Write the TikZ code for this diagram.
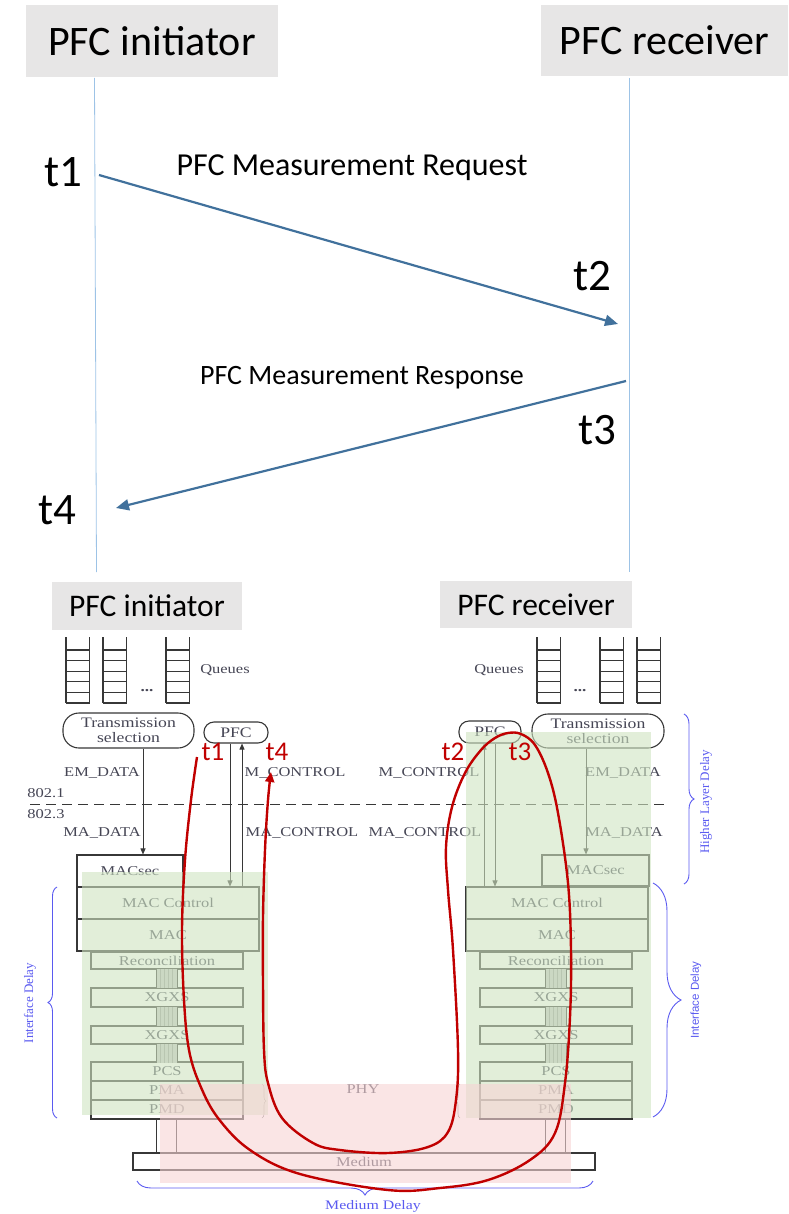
\documentclass[tikz,border=0pt]{standalone}
\usepackage{fontspec}
\setmainfont{Carlito}
\newfontfamily\ieee[FakeStretch=1.22]{Liberation Serif}
\newfontfamily\ieeeup{Liberation Serif}
\newfontfamily\ieeesans{Liberation Sans}
\usetikzlibrary{arrows.meta,decorations.pathreplacing}
\definecolor{hdrgray}{RGB}{231,230,230}
\definecolor{lifeblue}{RGB}{157,195,230}
\definecolor{msgblue}{RGB}{65,113,156}
\definecolor{boxline}{RGB}{55,55,55}
\definecolor{ieeetext}{RGB}{70,70,85}
\definecolor{delayblue}{RGB}{90,90,240}
\definecolor{loopred}{RGB}{192,0,0}
\definecolor{ifgreen}{RGB}{207,228,193}
\definecolor{medpink}{RGB}{247,212,212}
\begin{document}
\begin{tikzpicture}[x=1pt,y=-1pt,
    hdr/.style={fill=hdrgray, inner sep=0pt},
    life/.style={draw=lifeblue, line width=0.8pt},
    msg/.style={draw=msgblue, line width=2.2pt, -{Triangle[length=13pt,width=11pt]}},
    tlbl/.style={inner sep=0pt, font=\fontsize{45}{45}\selectfont},
    redt/.style={inner sep=0pt, text=loopred, font=\fontsize{27}{27}\selectfont},
    ieeelbl/.style={inner sep=0pt, text=ieeetext, font=\ieee\fontsize{13.5}{14}\selectfont},
    layer/.style={ieeelbl, draw=boxline, line width=1.1pt, fill=white},
    tsel/.style={ieeelbl, draw=boxline, line width=1.1pt, fill=white, align=center, font=\ieee\fontsize{14.5}{15}\selectfont},
    queue/.style={draw=boxline, line width=1.1pt},
    ctl/.style={draw=boxline, line width=0.9pt},
    ctlarrow/.style={ctl, -{Triangle[length=6pt,width=5pt]}},
    hatch/.style={fill=black!22},
    redpath/.style={draw=loopred, line width=2.4pt, -{Triangle[length=10pt,width=9pt]}},
    delaybrace/.style={draw=delayblue, line width=0.9pt, decorate, decoration={brace, amplitude=#1}},
    delaylbl/.style={inner sep=0pt, text=delayblue, font=\ieeeup\fontsize{13}{13}\selectfont},
  ]
    \useasboundingbox (0,0) rectangle (788,1214);

    % message sequence
    \node[hdr, minimum width=252pt, minimum height=72pt, font=\fontsize{42}{42}\selectfont] (init) at (152,41) {PFC initiator};
    \node[hdr, minimum width=247pt, minimum height=71pt, font=\fontsize{42}{42}\selectfont] (recv) at (664.5,40.5) {PFC receiver};

    \coordinate (initTop) at (94.5,78);
    \coordinate (initBot) at (96.5,572);
    \coordinate (recvTop) at (629.5,78);
    \coordinate (recvBot) at (629.5,572);
    \draw[life] (initTop) -- (initBot);
    \draw[life] (recvTop) -- (recvBot);

    \coordinate (reqFrom) at (99,175);
    \coordinate (reqTo) at (618,324);
    \coordinate (rspFrom) at (626,381);
    \coordinate (rspTo) at (116,508);
    \draw[msg] (reqFrom) -- (reqTo);
    \draw[msg] (rspFrom) -- (rspTo);

    \node[inner sep=0pt, font=\fontsize{32}{32}\selectfont] (reqlbl) at (352,168) {PFC Measurement Request};
    \node[inner sep=0pt, font=\fontsize{28}{28}\selectfont] (rsplbl) at (362,378) {PFC Measurement Response};
    \node[tlbl] (t1) at (63,172) {t1};
    \node[tlbl] (t2) at (592,276) {t2};
    \node[tlbl] (t3) at (597,430) {t3};
    \node[tlbl] (t4) at (57,510) {t4};

    % 802.1 / 802.3 stacks
    \node[hdr, minimum width=190pt, minimum height=48pt, font=\fontsize{31.5}{31.5}\selectfont] (binit) at (147,606) {PFC initiator};
    \node[hdr, minimum width=192pt, minimum height=47pt, font=\fontsize{31.5}{31.5}\selectfont] (brecv) at (536,604.5) {PFC receiver};

    \foreach \qx in {66,103,166,537,600,637} {
      \draw[queue] (\qx,637) -- (\qx,703) (\qx+23.5,637) -- (\qx+23.5,703);
      \foreach \r in {0,...,5}
        \draw[queue] (\qx,650+10.6*\r) -- (\qx+23.5,650+10.6*\r);
    }
    \node[ieeelbl] (lqueues) at (225,670) {Queues};
    \node[ieeelbl] (rqueues) at (499,670) {Queues};
    \node[ieeelbl, font=\ieee\bfseries\fontsize{14}{14}\selectfont] (ldots) at (147,691) {...};
    \node[ieeelbl, font=\ieee\bfseries\fontsize{14}{14}\selectfont] (rdots) at (580,691) {...};

    \node[tsel, minimum width=131pt, minimum height=35pt, rounded corners=16pt] (ltsel) at (128.5,730.5) {Transmission\\selection};
    \node[tsel, minimum width=64pt, minimum height=21pt, rounded corners=10pt] (lpfc) at (236,732.5) {PFC};
    \node[tsel, minimum width=132pt, minimum height=34pt, rounded corners=16pt] (rtsel) at (598,731) {Transmission\\selection};
    \node[tsel, minimum width=62pt, minimum height=22pt, rounded corners=10pt] (rpfc) at (490,732) {PFC};

    \draw[ctl, dash pattern=on 10pt off 6pt] (30,804) -- (665,804);
    \node[ieeelbl] (s8021) at (46,793) {802.1};
    \node[ieeelbl] (s8023) at (46,814) {802.3};
    \node[ieeelbl] (lemdata) at (102,773) {EM\_DATA};
    \node[ieeelbl] (lmctl) at (295,773) {M\_CONTROL};
    \node[ieeelbl] (lmadata) at (102,833) {MA\_DATA};
    \node[ieeelbl] (lmactl) at (302,833) {MA\_CONTROL};
    \node[ieeelbl] (rmctl) at (429,773) {M\_CONTROL};
    \node[ieeelbl] (remdata) at (623,773) {EM\_DATA};
    \node[ieeelbl] (rmactl) at (425,833) {MA\_CONTROL};
    \node[ieeelbl] (rmadata) at (624,833) {MA\_DATA};

    \node[layer, minimum width=106pt, minimum height=32pt] (lmacsec) at (130,871) {MACsec};
    \node[layer, minimum width=107pt, minimum height=31pt] (rmacsec) at (595.5,870.5) {MACsec};
    \node[layer, minimum width=462pt, minimum height=17pt] (medium) at (364,1161.5) {Medium};
    \node[ieeelbl] (phy) at (363,1089) {PHY};

    \foreach \s/\ox in {l/0, r/389} {
      \node[layer, minimum width=182pt, minimum height=32pt] (\s-macctl) at (168+\ox,903) {MAC Control};
      \node[layer, minimum width=182pt, minimum height=32pt] (\s-mac) at (168+\ox,935) {MAC};
      \foreach \n/\cy/\h/\txt in {recon/960.5/17pt/Reconciliation, xgxsa/997.5/19pt/XGXS,
          xgxsb/1035/18pt/XGXS, pcs/1071.5/19pt/PCS, pma/1090.5/19pt/PMA, pmd/1109.5/19pt/PMD}
        \node[layer, minimum width=152pt, minimum height=\h] (\s-\n) at (167+\ox,\cy) {\txt};
      \foreach \cy in {969,1007,1044} {
        \fill[hatch] (156+\ox,\cy) rectangle (177+\ox,\cy+18.5);
        \foreach \hx in {160,164,168,172}
          \draw[black!40, line width=0.4pt] (\hx+\ox,\cy) -- (\hx+\ox,\cy+18.5);
        \draw[ctl] (156+\ox,\cy) -- (156+\ox,\cy+18.5) (177+\ox,\cy) -- (177+\ox,\cy+18.5);
      }
      \draw[ctl] ([xshift=-11pt]\s-pmd.south) -- ([xshift=-11pt]\s-pmd.south |- medium.north);
      \draw[ctl] ([xshift=9pt]\s-pmd.south) -- ([xshift=9pt]\s-pmd.south |- medium.north);
    }

    \draw[ctlarrow] ([xshift=13pt]lmacsec.north |- ltsel.south) -- ([xshift=13pt]lmacsec.north);
    \draw[ctlarrow] ([xshift=-9.5pt]rmacsec.north |- rtsel.south) -- ([xshift=-9.5pt]rmacsec.north);
    \draw[ctlarrow] ([xshift=-6pt]lpfc.south) -- ([xshift=-6pt]lpfc.south |- l-macctl.north);
    \draw[ctlarrow] ([xshift=6pt]lpfc.south |- l-macctl.north) -- ([xshift=6pt]lpfc.south);
    \draw[ctlarrow] ([xshift=-6pt]rpfc.south |- r-macctl.north) -- ([xshift=-6pt]rpfc.south);
    \draw[ctlarrow] ([xshift=5pt]rpfc.south) -- ([xshift=5pt]rpfc.south |- r-macctl.north);

    \draw[black!45, line width=0.6pt, decorate, decoration={brace, amplitude=4pt}] (262,1084) -- (262,1118);
    \draw[black!45, line width=0.6pt, decorate, decoration={brace, amplitude=4pt}] (460,1118) -- (460,1084);

    % delay areas
    \fill[ifgreen, opacity=0.6] (82,872) rectangle (268,1115);
    \fill[ifgreen, opacity=0.6] (466,732) rectangle (651,1118);
    \fill[medpink, opacity=0.6] (160,1084) rectangle (571,1183);

    \draw[delaybrace=10pt] (684,714) -- (684,884);
    \node[delaylbl, rotate=90] (hldelay) at (706,802) {Higher Layer Delay};
    \draw[delaybrace=9pt] (57,1118) -- (57,887);
    \node[delaylbl, rotate=90] (lifdelay) at (30,1003) {Interface Delay};
    \draw[delaybrace=28pt] (653,883) -- (653,1117);
    \node[delaylbl, rotate=90, font=\ieeesans\fontsize{11.5}{12}\selectfont] (rifdelay) at (696,1000) {Interface Delay};
    \draw[delaybrace=14pt] (593,1181) -- (137,1181);
    \node[delaylbl, font=\ieee\fontsize{13}{13}\selectfont] (mddelay) at (373,1206) {Medium Delay};

    % timestamp loop
    \coordinate (loopStart) at (197,757);
    \coordinate (loopEnd) at (271,772);
    \draw[redpath] plot[smooth, tension=0.6] coordinates {(loopStart) (191,800) (185,860) (182,930)
      (184,1000) (189,1050) (200,1085) (218,1118) (250,1150) (300,1174) (388,1190) (440,1188)
      (488,1180) (530,1160) (555,1133) (565,1083) (570,1017) (571,950) (568,883) (558,813)
      (548,773) (535,745) (521,734) (508,733) (495,738) (481,750) (465,773) (452,807) (446,847)
      (448,890) (453,950) (458,1050) (456,1100) (448,1132) (428,1147) (388,1153) (340,1150)
      (313,1143) (282,1118) (268,1083) (264,1050) (263,983) (263,917) (265,850) (268,800) (loopEnd)};
    \node[redt] (rt1) at (213,752) {t1};
    \node[redt] (rt4) at (277,752) {t4};
    \node[redt] (rt2) at (453,752) {t2};
    \node[redt] (rt3) at (520,752) {t3};
\end{tikzpicture}
\end{document}
